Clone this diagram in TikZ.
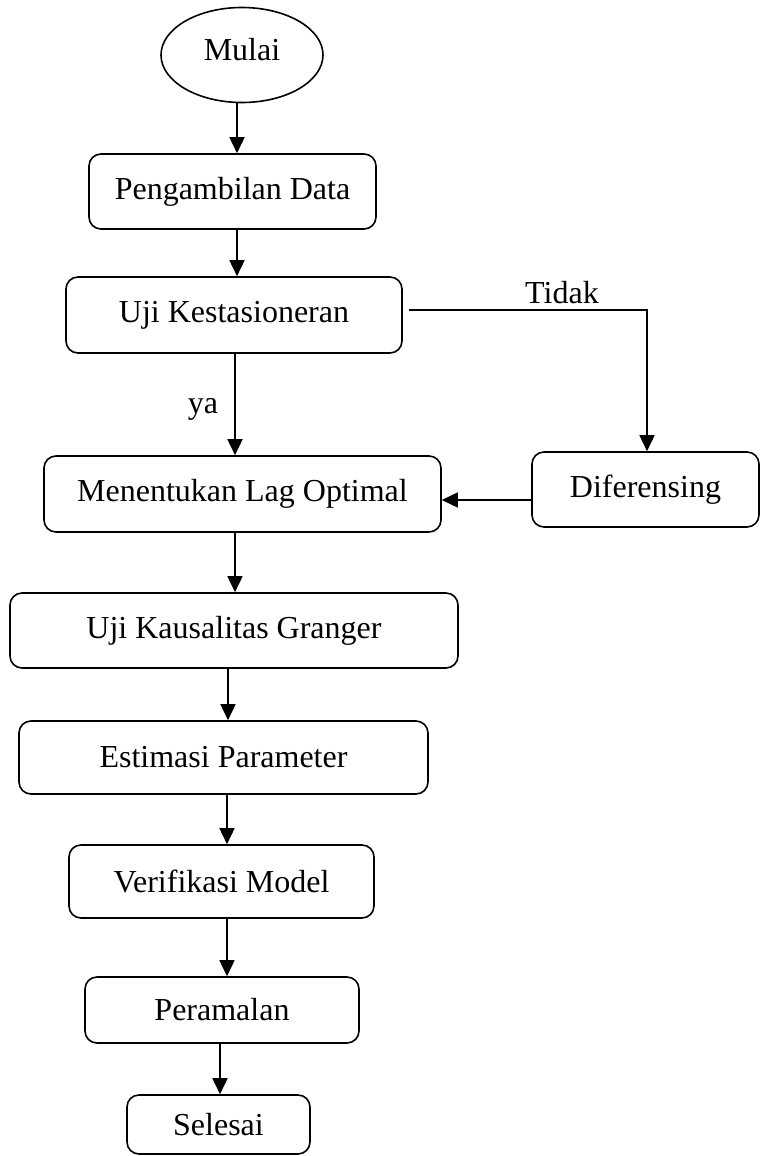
\documentclass[tikz,border=0pt]{standalone}
\usepackage{fontspec}
\setmainfont{Liberation Serif}
\usetikzlibrary{shapes.geometric,arrows.meta}
\begin{document}
\begin{tikzpicture}[x=1pt,y=-1pt,
  every node/.style={font=\fontsize{32}{38}\selectfont},
  box/.style={draw,line width=1.6pt,rounded corners=12pt,inner sep=0pt},
  arr/.style={line width=1.6pt,-{Triangle[length=16pt,width=15pt]}},
  conn/.style={line width=1.6pt},
  lbl/.style={anchor=base,inner sep=0pt}]
\useasboundingbox (0,0) rectangle (761,1156);
\node[draw,ellipse,line width=1.6pt,minimum width=162pt,minimum height=95pt,inner sep=0pt] (mulai) at (242,55) {};
\node at (242,50) {Mulai};
\node[box,minimum width=287pt,minimum height=75pt] (peng) at (232.5,191.5) {Pengambilan Data};
\node[box,minimum width=336pt,minimum height=76pt] (uji) at (234,315) {Uji Kestasioneran};
\node[box,minimum width=397pt,minimum height=76pt] (lag) at (242.5,494) {Menentukan Lag Optimal};
\node[box,minimum width=227pt,minimum height=75pt] (dif) at (645.5,489.5) {Diferensing};
\node[box,minimum width=448pt,minimum height=75pt] (gran) at (234,630.5) {Uji Kausalitas Granger};
\node[box,minimum width=409pt,minimum height=73pt] (est) at (223.5,757.5) {Estimasi Parameter};
\node[box,minimum width=305pt,minimum height=73pt] (ver) at (221.5,881.5) {Verifikasi Model};
\node[box,minimum width=274pt,minimum height=66pt] (per) at (222,1010) {Peramalan};
\node[box,minimum width=183pt,minimum height=59pt] (sel) at (218.5,1124.5) {Selesai};
\node[lbl] (tidak) at (562,303) {Tidak};
\node[lbl] (ya) at (203,413) {ya};
\draw[arr] ([xshift=-5pt]mulai.south) -- ([xshift=4.5pt]peng.north);
\draw[arr] ([xshift=4.5pt]peng.south) -- ([xshift=3pt]uji.north);
\draw[arr] ([xshift=1pt]uji.south) -- ([xshift=-7.5pt]lag.north);
\draw[conn,-{Triangle[length=16pt,width=15pt]}] ([xshift=6pt,yshift=5pt]uji.east) -| ([xshift=1.5pt]dif.north);
\draw[arr] ([yshift=-10.5pt]dif.west) -- ([yshift=-10.5pt]dif.west -| lag.east);
\draw[arr] ([xshift=-7.5pt]lag.south) -- ([xshift=1pt]gran.north);
\draw[arr] ([xshift=-6pt]gran.south) -- ([xshift=4.5pt]est.north);
\draw[arr] ([xshift=3.5pt]est.south) -- ([xshift=5.5pt]ver.north);
\draw[arr] ([xshift=5.5pt]ver.south) -- ([xshift=5pt]per.north);
\draw[arr] ([xshift=-2pt]per.south) -- ([xshift=1.5pt]sel.north);
\end{tikzpicture}
\end{document}
